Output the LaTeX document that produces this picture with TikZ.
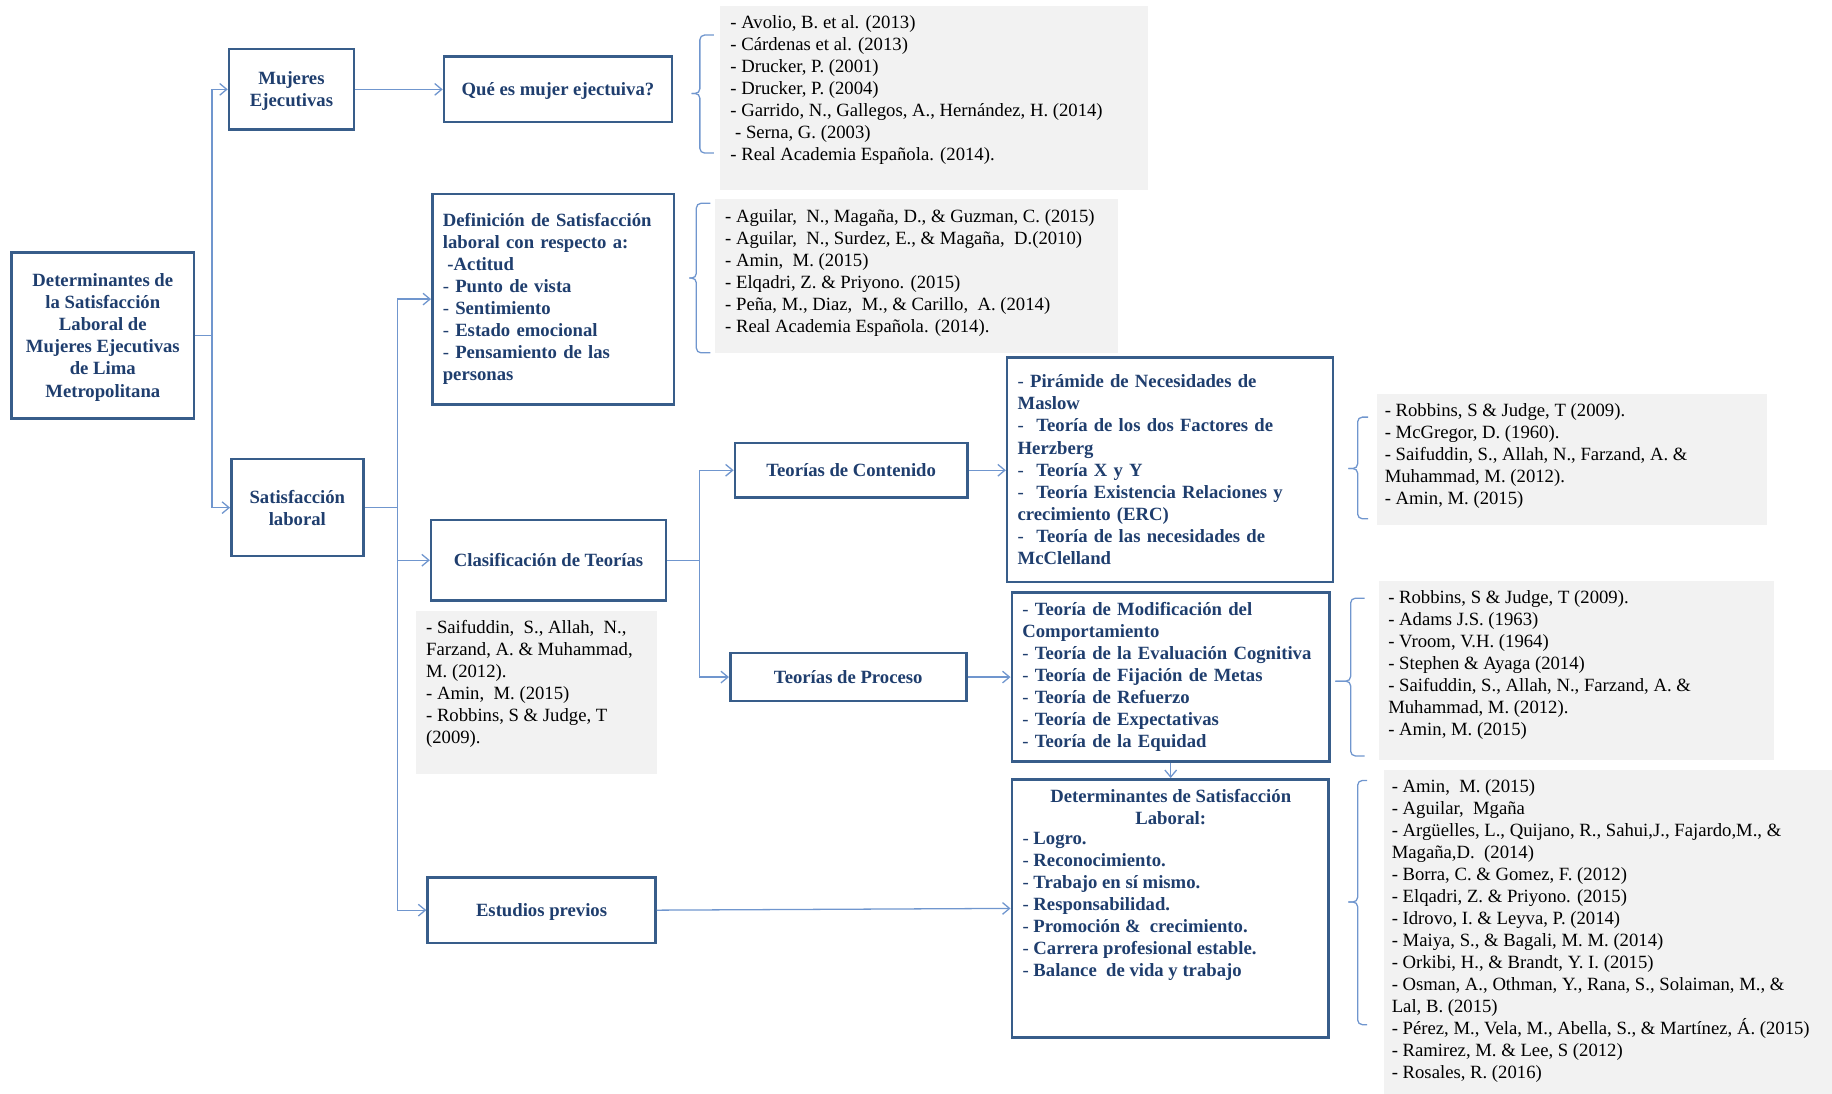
\documentclass[tikz,border=0pt]{standalone}
\usepackage{fontspec}
\setmainfont{Liberation Serif}
\usetikzlibrary{arrows.meta}
\definecolor{boxc}{RGB}{56,93,138}
\definecolor{txtc}{RGB}{31,62,110}
\definecolor{linec}{RGB}{112,150,206}
\definecolor{greyc}{RGB}{242,242,242}
\newcommand{\dsh}{{\mdseries -}}
\begin{document}
\begin{tikzpicture}[x=1pt,y=-1pt,
  bx/.style={draw=boxc, line width=2.2pt, fill=white, text=txtc, font=\bfseries\fontsize{16}{18.9}\selectfont, inner sep=0pt, align=center, text depth=0pt},
  lbx/.style={bx, align=left, inner xsep=9pt, inner ysep=0pt, text depth={}},
  bold/.style={text=txtc, font=\bfseries\fontsize{16}{18.9}\selectfont, inner sep=0pt},
  greybox/.style={fill=greyc, draw=none, inner sep=0pt, anchor=north west},
  reftext/.style={font=\fontsize{16}{18.8}\selectfont, text=black, align=left, anchor=north west, inner sep=0pt},
  conn/.style={draw=linec, line width=1.1pt, -{Straight Barb[length=6pt,width=10pt]}},
  brc/.style={draw=linec, line width=1.1pt, rounded corners=4pt},
]
\useasboundingbox (0,0) rectangle (1568,936);

% grey reference boxes
\node[greybox, minimum width=366pt, minimum height=157pt] (g1) at (616,5) {};
\node[greybox, minimum width=345pt, minimum height=132pt] (g2) at (612,170) {};
\node[greybox, minimum width=334pt, minimum height=112pt] (g3) at (1178,337) {};
\node[greybox, minimum width=338pt, minimum height=153pt] (g4) at (1180,497) {};
\node[greybox, minimum width=384pt, minimum height=277pt] (g5) at (1184,659) {};
\node[greybox, minimum width=206pt, minimum height=139pt] (g6) at (356,523) {};

\node[reftext] (t1) at (625,13) {- Avolio, B. et al. (2013)\\- Cárdenas et al. (2013)\\- Drucker, P. (2001)\\- Drucker, P. (2004)\\- Garrido, N., Gallegos, A., Hernández, H. (2014)\\\hspace*{4pt}- Serna, G. (2003)\\- Real Academia Española. (2014).};
\node[reftext] (t2) at (620.5,179) {- Aguilar,\ \ N., Magaña, D., \& Guzman, C. (2015)\\- Aguilar,\ \ N., Surdez, E., \& Magaña,\ \ D.(2010)\\- Amin,\ \ M. (2015)\\- Elqadri, Z. \& Priyono. (2015)\\- Peña, M., Diaz,\ \ M., \& Carillo,\ \ A. (2014)\\- Real Academia Española. (2014).};
\node[reftext] (t3) at (1185,345.5) {- Robbins, S \& Judge, T (2009).\\- McGregor, D. (1960).\\- Saifuddin, S., Allah, N., Farzand, A. \&\\Muhammad, M. (2012).\\- Amin, M. (2015)};
\node[reftext] (t4) at (1188,505) {- Robbins, S \& Judge, T (2009).\\- Adams J.S. (1963)\\- Vroom, V.H. (1964)\\- Stephen \& Ayaga (2014)\\- Saifuddin, S., Allah, N., Farzand, A. \&\\Muhammad, M. (2012).\\- Amin, M. (2015)};
\node[reftext] (t5) at (1191,667) {- Amin,\ \ M. (2015)\\- Aguilar,\ \ Mgaña\\- Argüelles, L., Quijano, R., Sahui,J., Fajardo,M., \&\\Magaña,D.\ \ (2014)\\- Borra, C. \& Gomez, F. (2012)\\- Elqadri, Z. \& Priyono. (2015)\\- Idrovo, I. \& Leyva, P. (2014)\\- Maiya, S., \& Bagali, M. M. (2014)\\- Orkibi, H., \& Brandt, Y. I. (2015)\\- Osman, A., Othman, Y., Rana, S., Solaiman, M., \&\\Lal, B. (2015)\\- Pérez, M., Vela, M., Abella, S., \& Martínez, Á. (2015)\\- Ramirez, M. \& Lee, S (2012)\\- Rosales, R. (2016)};
\node[reftext] (t6) at (364.5,530.5) {- Saifuddin,\ \ S., Allah,\ \ N.,\\Farzand, A. \& Muhammad,\\M. (2012).\\- Amin,\ \ M. (2015)\\- Robbins, S \& Judge, T\\(2009).};

% braces
\draw[brc] (611,30) -- (599,30) -- (599,80) -- (592,80);
\draw[brc] (592,80) -- (599,80) -- (599,131) -- (611,131);
\draw[brc] (608,174) -- (596,174) -- (596,238) -- (590,238);
\draw[brc] (590,238) -- (596,238) -- (596,302) -- (608,302);
\draw[brc] (1171,357) -- (1162,357) -- (1162,401) -- (1154,401);
\draw[brc] (1154,401) -- (1162,401) -- (1162,444) -- (1171,444);
\draw[brc] (1168,512) -- (1156,512) -- (1156,583) -- (1143,583);
\draw[brc] (1143,583) -- (1156,583) -- (1156,647) -- (1168,647);
\draw[brc] (1170,668) -- (1162,668) -- (1162,772) -- (1154,772);
\draw[brc] (1154,772) -- (1162,772) -- (1162,877) -- (1170,877);

% boxes
\node[bx, minimum width=156pt, minimum height=142pt] (main) at (88,287) {Determinantes de\\la Satisfacción\\Laboral de\\Mujeres Ejecutivas\\de Lima\\Metropolitana};
\node[bx, minimum width=107pt, minimum height=69pt] (muj) at (249.5,76.5) {Mujeres\\Ejecutivas};
\node[bx, minimum width=195pt, minimum height=56pt] (que) at (477.5,76.5) {Qué es mujer ejectuiva?};
\node[bx, minimum width=113pt, minimum height=83pt] (sat) at (254.5,434.5) {Satisfacción\\laboral};
\node[lbx, text width=189pt, minimum height=180pt] (def) at (473.5,256) {Definición de Satisfacción\\laboral con respecto a:\\\hspace*{4pt}-Actitud\\\dsh\ Punto de vista\\\dsh\ Sentimiento\\\dsh\ Estado emocional\\\dsh\ Pensamiento de las\\personas};
\node[bx, minimum width=201pt, minimum height=69pt] (clas) at (469.5,479.5) {Clasificación de Teorías};
\node[bx, minimum width=195pt, minimum height=56pt] (est) at (463.5,779) {Estudios previos};
\node[bx, minimum width=199pt, minimum height=47pt] (cont) at (728.5,402.5) {Teorías de Contenido};
\node[bx, minimum width=202pt, minimum height=41pt] (proc) at (726,579.5) {Teorías de Proceso};
\node[lbx, text width=261pt, minimum height=192pt] (cth) at (1001.5,402) {\dsh\ Pirámide de Necesidades de\\Maslow\\\dsh\ \ Teoría de los dos Factores de\\Herzberg\\\dsh\ \ Teoría X y Y\\\dsh\ \ Teoría Existencia Relaciones y\\crecimiento (ERC)\\\dsh\ \ Teoría de las necesidades de\\McClelland};
\node[lbx, text width=254pt, minimum height=145pt] (pth) at (1002,579.5) {\dsh\ Teoría de Modificación del\\Comportamiento\\\dsh\ Teoría de la Evaluación Cognitiva\\\dsh\ Teoría de Fijación de Metas\\\dsh\ Teoría de Refuerzo\\\dsh\ Teoría de Expectativas\\\dsh\ Teoría de la Equidad};
\node[bx, minimum width=271pt, minimum height=221pt] (dsl) at (1001.5,777.5) {};
\node[bold, align=center, anchor=north] (dslh) at (1002,675) {Determinantes de Satisfacción\\Laboral:};
\node[bold, align=left, anchor=north west] (dsll) at (875,712) {\dsh\ Logro.\\\dsh\ Reconocimiento.\\\dsh\ Trabajo en sí mismo.\\\dsh\ Responsabilidad.\\\dsh\ Promoción \&\ \ crecimiento.\\\dsh\ Carrera profesional estable.\\\dsh\ Balance\ \ de vida y trabajo};

% connectors
\coordinate (j1) at (181.5,287);
\coordinate (j2) at (340.5,434.5);
\coordinate (j3) at (598.5,479.5);
\draw[conn] (main.east) -- (j1) |- (muj.west);
\draw[conn] (j1) |- (sat.west);
\draw[conn] (muj.east) -- (que.west);
\draw[conn] (sat.east) -- (j2) |- (def.west);
\draw[conn] (j2) |- (clas.west);
\draw[conn] (j2) |- (est.west);
\draw[conn] (clas.east) -- (j3) |- (cont.west);
\draw[conn] (j3) |- (proc.west);
\draw[conn] (cont.east) -- (cont.east -| cth.west);
\draw[conn] (proc.east) -- (proc.east -| pth.west);
\draw[conn] (pth.south) -- (pth.south |- dsl.north);
\draw[conn] (est.east) -- (dsl.west);
\end{tikzpicture}
\end{document}
